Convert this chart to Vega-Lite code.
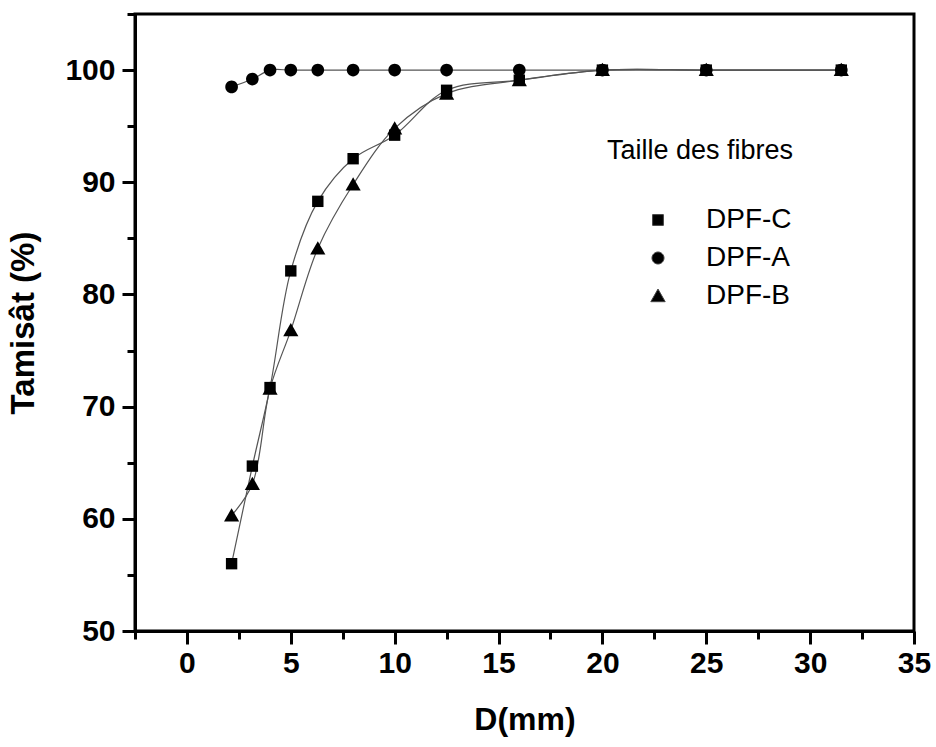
{
  "$schema": "https://vega.github.io/schema/vega-lite/v6.json",
  "width": 779,
  "height": 617,
  "autosize": {"type": "none"},
  "padding": {"left": 135, "top": 14, "right": 22, "bottom": 116},
  "background": "white",
  "config": {
    "font": "Liberation Sans",
    "view": {"stroke": "black", "strokeWidth": 3}
  },
  "data": {
    "values": [
      {"D": 2.15, "T": 56.0, "serie": "DPF-C"},
      {"D": 3.15, "T": 64.7, "serie": "DPF-C"},
      {"D": 4, "T": 71.7, "serie": "DPF-C"},
      {"D": 5, "T": 82.1, "serie": "DPF-C"},
      {"D": 6.3, "T": 88.3, "serie": "DPF-C"},
      {"D": 8, "T": 92.1, "serie": "DPF-C"},
      {"D": 10, "T": 94.2, "serie": "DPF-C"},
      {"D": 12.5, "T": 98.2, "serie": "DPF-C"},
      {"D": 16, "T": 99.1, "serie": "DPF-C"},
      {"D": 20, "T": 100, "serie": "DPF-C"},
      {"D": 25, "T": 100, "serie": "DPF-C"},
      {"D": 31.5, "T": 100, "serie": "DPF-C"},
      {"D": 2.15, "T": 98.5, "serie": "DPF-A"},
      {"D": 3.15, "T": 99.2, "serie": "DPF-A"},
      {"D": 4, "T": 100, "serie": "DPF-A"},
      {"D": 5, "T": 100, "serie": "DPF-A"},
      {"D": 6.3, "T": 100, "serie": "DPF-A"},
      {"D": 8, "T": 100, "serie": "DPF-A"},
      {"D": 10, "T": 100, "serie": "DPF-A"},
      {"D": 12.5, "T": 100, "serie": "DPF-A"},
      {"D": 16, "T": 100, "serie": "DPF-A"},
      {"D": 20, "T": 100, "serie": "DPF-A"},
      {"D": 25, "T": 100, "serie": "DPF-A"},
      {"D": 31.5, "T": 100, "serie": "DPF-A"},
      {"D": 2.15, "T": 60.3, "serie": "DPF-B"},
      {"D": 3.15, "T": 63.1, "serie": "DPF-B"},
      {"D": 4, "T": 71.6, "serie": "DPF-B"},
      {"D": 5, "T": 76.8, "serie": "DPF-B"},
      {"D": 6.3, "T": 84.1, "serie": "DPF-B"},
      {"D": 8, "T": 89.8, "serie": "DPF-B"},
      {"D": 10, "T": 94.8, "serie": "DPF-B"},
      {"D": 12.5, "T": 97.9, "serie": "DPF-B"},
      {"D": 16, "T": 99.1, "serie": "DPF-B"},
      {"D": 20, "T": 100, "serie": "DPF-B"},
      {"D": 25, "T": 100, "serie": "DPF-B"},
      {"D": 31.5, "T": 100, "serie": "DPF-B"}
    ]
  },
  "encoding": {
    "x": {
      "field": "D",
      "type": "quantitative",
      "scale": {"domain": [-2.5, 35], "nice": false, "zero": false},
      "axis": {
        "title": "D(mm)",
        "titleFont": "Liberation Sans",
        "titleFontSize": 32,
        "titleFontWeight": "bold",
        "titleColor": "black",
        "titlePadding": 26,
        "values": [-2.5, 0, 2.5, 5, 7.5, 10, 12.5, 15, 17.5, 20, 22.5, 25, 27.5, 30, 32.5, 35],
        "labelExpr": "datum.value % 5 === 0 ? datum.label : ''",
        "labelFont": "Liberation Sans",
        "labelFontSize": 30,
        "labelFontWeight": "bold",
        "labelColor": "black",
        "labelPadding": 4,
        "labelFlush": false,
        "labelOverlap": false,
        "domainColor": "black",
        "domainWidth": 3,
        "tickColor": "black",
        "tickWidth": 3,
        "tickSize": {"condition": {"test": "datum.value % 5 === 0", "value": 13}, "value": 8},
        "grid": false
      }
    },
    "y": {
      "field": "T",
      "type": "quantitative",
      "scale": {"domain": [50, 105], "nice": false, "zero": false},
      "axis": {
        "title": "Tamisât (%)",
        "titleFont": "Liberation Sans",
        "titleFontSize": 33,
        "titleFontWeight": "bold",
        "titleColor": "black",
        "titlePadding": 24,
        "values": [50, 55, 60, 65, 70, 75, 80, 85, 90, 95, 100, 105],
        "labelExpr": "datum.value % 10 === 0 && datum.value <= 100 ? datum.label : ''",
        "labelFont": "Liberation Sans",
        "labelFontSize": 30,
        "labelFontWeight": "bold",
        "labelColor": "black",
        "labelPadding": 7,
        "labelFlush": false,
        "labelOverlap": false,
        "domainColor": "black",
        "domainWidth": 3,
        "tickColor": "black",
        "tickWidth": 3,
        "tickSize": {"condition": {"test": "datum.value % 10 === 0", "value": 13}, "value": 8},
        "grid": false
      }
    }
  },
  "layer": [
    {
      "mark": {"type": "line", "interpolate": "catmull-rom", "color": "#555555", "strokeWidth": 1.2},
      "encoding": {"detail": {"field": "serie"}}
    },
    {
      "mark": {"type": "point", "filled": true, "opacity": 1, "size": 160},
      "encoding": {
        "shape": {
          "field": "serie",
          "type": "nominal",
          "scale": {
            "domain": ["DPF-C", "DPF-A", "DPF-B"],
            "range": [
              "M-0.9,-0.9H0.9V0.9H-0.9Z",
              "M-1,0A1,1,0,1,0,1,0A1,1,0,1,0,-1,0Z",
              "M0,-1.15L1.2,0.95L-1.2,0.95Z"
            ]
          },
          "legend": null
        },
        "color": {
          "field": "serie",
          "type": "nominal",
          "scale": {"domain": ["DPF-C", "DPF-A", "DPF-B"], "range": ["black", "black", "black"]},
          "legend": {
            "title": "Taille des fibres",
            "orient": "none",
            "legendX": 472,
            "legendY": 124,
            "padding": 0,
            "titleFont": "Liberation Sans",
            "titleFontSize": 27,
            "titleFontWeight": "normal",
            "titleColor": "black",
            "titlePadding": 41,
            "titleLimit": 500,
            "labelFont": "Liberation Sans",
            "labelFontSize": 28,
            "labelColor": "black",
            "labelLimit": 300,
            "symbolSize": 144,
            "symbolOffset": 37,
            "labelOffset": 34,
            "rowPadding": 10,
            "symbolStrokeColor": "#444444",
            "symbolStrokeWidth": 1
          }
        }
      }
    }
  ]
}
